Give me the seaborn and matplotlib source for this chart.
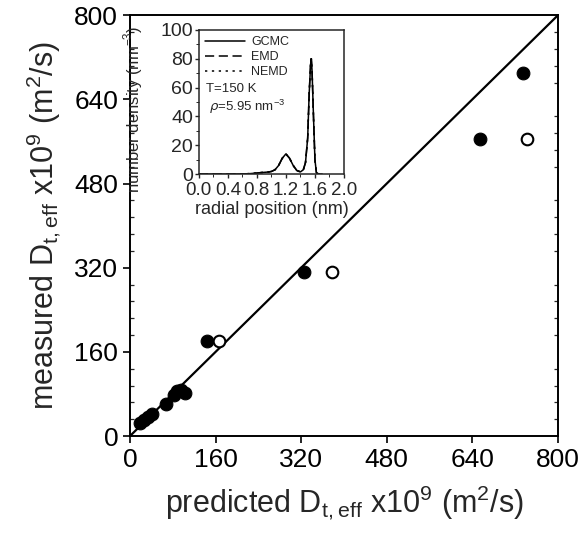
import numpy as np
import pandas as pd
import matplotlib
matplotlib.use("Agg")
import matplotlib.pyplot as plt
import seaborn as sns
from matplotlib.ticker import MultipleLocator

# main panel: predicted vs measured D_t,eff (x1e9 m^2/s)
filled_pred = [18, 26, 34, 42, 67, 82, 88, 96, 102, 144, 325, 654, 735]
filled_meas = [24, 30, 36, 42, 60, 78, 86, 88, 82, 180, 312, 565, 690]
open_pred = [166, 378, 742]
open_meas = [180, 312, 565]
parity = [0, 800]

# inset: radial density profile
radial = [0.0, 0.2, 0.4, 0.6, 0.7, 0.8, 0.85, 0.9, 0.95, 1.0, 1.05, 1.1, 1.15,
          1.2, 1.25, 1.3, 1.35, 1.4, 1.44, 1.47, 1.5, 1.52, 1.54, 1.55, 1.56,
          1.58, 1.6, 1.62, 1.65, 1.7]
density = [0, 0, 0, 0.1, 0.3, 0.7, 1.0, 1.2, 1.4, 1.8, 3, 6, 11,
           14, 11, 6, 2.5, 1.5, 3, 8, 25, 55, 76, 80, 72,
           40, 10, 1, 0, 0]
inset_styles = {"GCMC": "-", "EMD": (0, (6, 3)), "NEMD": (0, (1.5, 3))}

sns.set_style("ticks")
plt.rcParams["font.family"] = ["Liberation Sans", "DejaVu Sans"]

fig = plt.figure(figsize=(5.83, 5.44), dpi=100)
ax = fig.add_axes([0.223, 0.1985, 0.734, 0.7735])

ax.plot(parity, parity, color="black", lw=1.6, zorder=1)
sns.scatterplot(x=filled_pred, y=filled_meas, ax=ax, color="black",
                edgecolor="black", s=85, zorder=3)
sns.scatterplot(x=open_pred, y=open_meas, ax=ax, color="white",
                edgecolor="black", linewidth=1.5, s=70, zorder=3)

ax.set_xlim(0, 800)
ax.set_ylim(0, 800)
ax.set_xticks(np.arange(0, 801, 160))
ax.set_yticks(np.arange(0, 801, 160))
ax.yaxis.set_minor_locator(MultipleLocator(32))
ax.tick_params(which="major", direction="out", length=5, width=1.2,
               labelsize=19, colors="black")
ax.tick_params(which="minor", axis="y", direction="in", length=3, width=0.9,
               left=True, right=True)
for s in ax.spines.values():
    s.set_linewidth(1.4)
    s.set_color("black")
ax.set_xlabel(r"predicted D$_{\mathregular{t,eff}}$ x10$^{\mathregular{9}}$ (m$^{\mathregular{2}}$/s)",
              fontsize=22, labelpad=8)
ax.set_ylabel(r"measured D$_{\mathregular{t,eff}}$ x10$^{\mathregular{9}}$ (m$^{\mathregular{2}}$/s)",
              fontsize=22, labelpad=8)

# inset
ins = fig.add_axes([0.341, 0.680, 0.249, 0.265])
df = pd.DataFrame({"r": radial, "rho": density})
for name, ls in inset_styles.items():
    sns.lineplot(data=df, x="r", y="rho", ax=ins, color="black", lw=1.1,
                 linestyle=ls, label=name)
ins.set_xlim(0, 2.0)
ins.set_ylim(0, 100)
ins.set_xticks(np.arange(0, 2.01, 0.4))
ins.set_xticklabels([f"{v:.1f}" for v in np.arange(0, 2.01, 0.4)])
ins.set_yticks(np.arange(0, 101, 20))
ins.xaxis.set_minor_locator(MultipleLocator(0.2))
ins.yaxis.set_minor_locator(MultipleLocator(10))
ins.tick_params(which="major", direction="out", length=3, width=1,
                labelsize=14, pad=1)
ins.tick_params(axis="x", which="major", labelsize=13.5, pad=3)
ins.tick_params(which="minor", direction="out", length=2, width=0.7)
for s in ins.spines.values():
    s.set_linewidth(1.1)
ins.set_xlabel("radial position (nm)", fontsize=13, labelpad=1)
ins.set_ylabel(r"number density (nm$^{\mathregular{-3}}$)", fontsize=12, labelpad=1)
ins.yaxis.set_label_coords(-0.37, 0.45)
ins.legend(loc="upper left", frameon=False, fontsize=9, handlelength=3.2,
           handletextpad=0.5, borderaxespad=0.1, labelspacing=0.25)
ins.text(0.05, 0.57, "T=150 K", transform=ins.transAxes, fontsize=9.5)
ins.text(0.07, 0.44, r"$\rho$=5.95 nm$^{\mathregular{-3}}$", transform=ins.transAxes, fontsize=9.5)

fig.savefig("out.png", dpi=100)
